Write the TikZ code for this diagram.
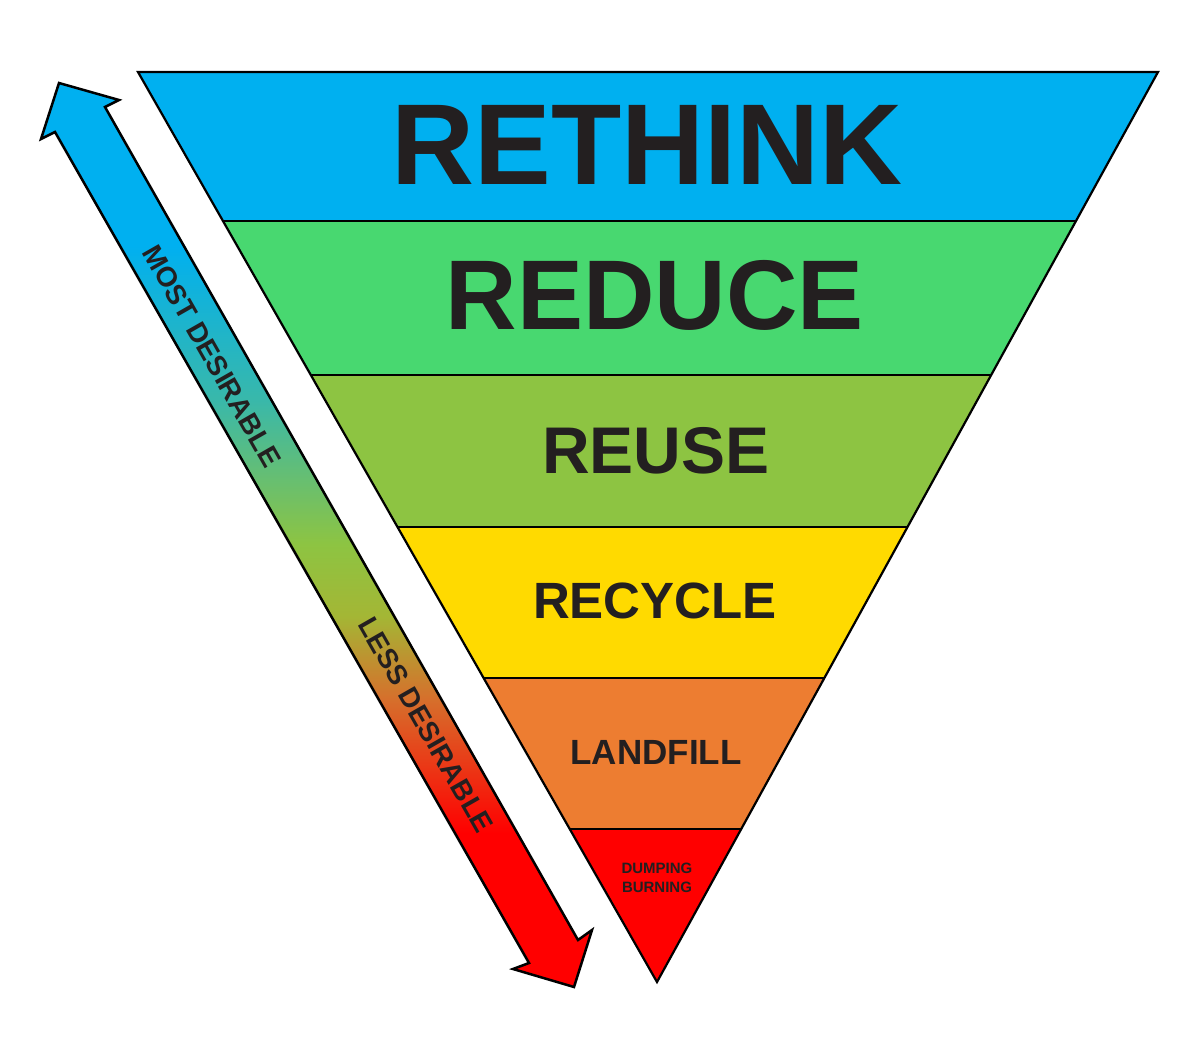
\documentclass[tikz,border=0pt]{standalone}
\usepackage{fontspec}
\setmainfont{Liberation Sans}
\definecolor{cblue}{RGB}{0,176,240}
\definecolor{cgreen}{RGB}{72,216,112}
\definecolor{clime}{RGB}{141,196,66}
\definecolor{cyellow}{RGB}{255,218,0}
\definecolor{corange}{RGB}{237,125,49}
\definecolor{cred}{RGB}{255,0,0}
\definecolor{ctext}{RGB}{35,31,32}
\pgfdeclareverticalshading{arrowgrad}{100bp}{color(0bp)=(cred); color(33.5bp)=(cred); color(41bp)=(corange!90!black); color(45.5bp)=(clime!80!orange); color(49.5bp)=(clime); color(57.5bp)=(cblue!60!clime); color(66bp)=(cblue); color(100bp)=(cblue)}
\tikzset{lab/.style={font=\bfseries, text=ctext, inner sep=0pt},
 edge/.style={draw=black, line width=2.2pt, line join=miter}}
\begin{document}
\begin{tikzpicture}[x=1pt,y=-1pt]
\useasboundingbox (0,0) rectangle (1200,1044);
\fill[white] (0,0) rectangle (1200,1044);
\coordinate (tl) at (138,72); \coordinate (tr) at (1158,72); \coordinate (ap) at (657,982);
\begin{scope}
\clip (tl) -- (tr) -- (ap) -- cycle;
\fill[cblue] (0,60) rectangle (1200,221);
\fill[cgreen] (0,221) rectangle (1200,375);
\fill[clime] (0,375) rectangle (1200,527);
\fill[cyellow] (0,527) rectangle (1200,678);
\fill[corange] (0,678) rectangle (1200,829);
\fill[cred] (0,829) rectangle (1200,1000);
\foreach \y in {221,375,527,678,829} \draw[line width=2pt] (0,\y) -- (1200,\y);
\end{scope}
\draw[edge] (tl) -- (tr) -- (ap) -- cycle;
% arrow
\path[shading=arrowgrad, draw=black, line width=2.5pt, line join=miter]
 (59,83) -- (119,100) -- (105,107) -- (578,940) -- (592,930) -- (574,987)
 -- (513,969) -- (529,963) -- (55,132) -- (41,139) -- cycle;
\node[lab, font=\bfseries\fontsize{115}{115}\selectfont] (t1) at (647,145) {RETHINK};
\node[lab, font=\bfseries\fontsize{99}{99}\selectfont] (t2) at (655,295) {REDUCE};
\node[lab, font=\bfseries\fontsize{66}{66}\selectfont] (t3) at (656,451) {REUSE};
\node[lab, font=\bfseries\fontsize{51}{51}\selectfont] (t4) at (655,601) {RECYCLE};
\node[lab, font=\bfseries\fontsize{35}{35}\selectfont] (t5) at (656,752) {LANDFILL};
\node[lab, font=\bfseries\fontsize{15}{15}\selectfont] (t6) at (657,868) {DUMPING};
\node[lab, font=\bfseries\fontsize{15}{15}\selectfont] (t7) at (657,887) {BURNING};
\node[lab, font=\bfseries\fontsize{28}{28}\selectfont, rotate=-60.3] (m) at (212,356) {MOST DESIRABLE};
\node[lab, font=\bfseries\fontsize{28}{28}\selectfont, rotate=-60.3] (l) at (426,725) {LESS DESIRABLE};
\end{tikzpicture}
\end{document}
